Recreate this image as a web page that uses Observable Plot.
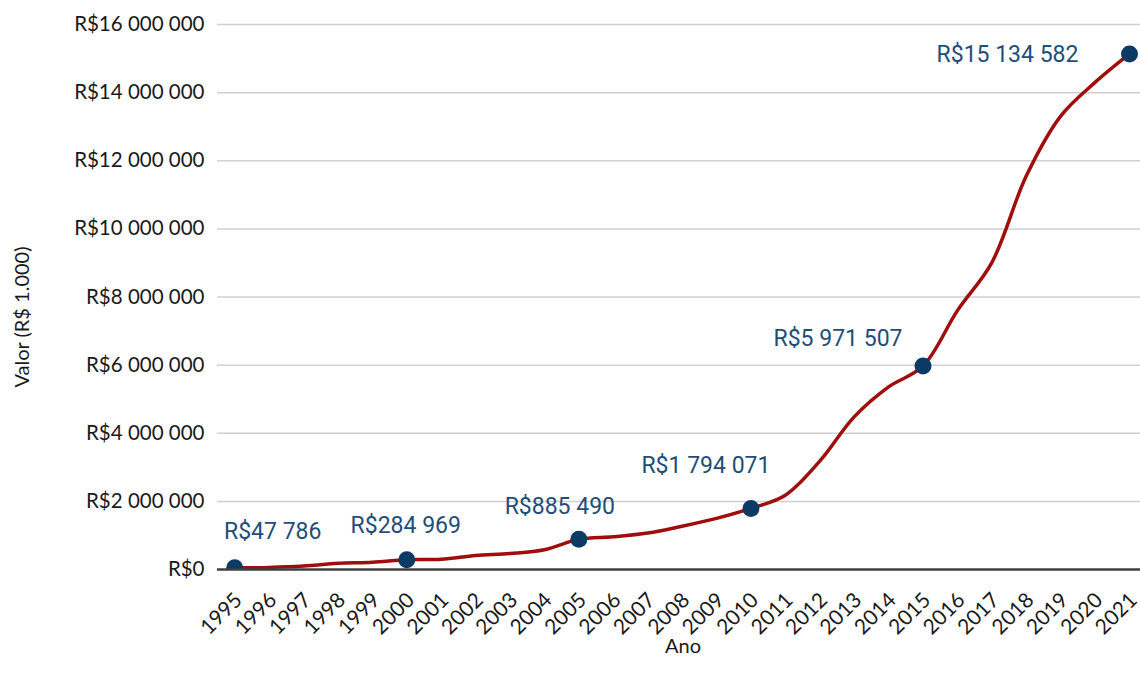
<!DOCTYPE html>
<html>
<head>
<meta charset="utf-8">
<script src="https://cdn.jsdelivr.net/npm/d3@7"></script>
<script src="https://cdn.jsdelivr.net/npm/@observablehq/plot@0.6"></script>
<style>
  html, body { margin: 0; padding: 0; background: #fff; overflow: hidden; }
</style>
</head>
<body>
<div id="chart"></div>
<script>
const anos = [1995, 1996, 1997, 1998, 1999, 2000, 2001, 2002, 2003, 2004, 2005, 2006, 2007, 2008, 2009, 2010, 2011, 2012, 2013, 2014, 2015, 2016, 2017, 2018, 2019, 2020, 2021];
const valores = [47786, 60000, 100000, 180000, 210000, 284969, 300000, 410000, 470000, 580000, 885490, 960000, 1070000, 1270000, 1500000, 1794071, 2180000, 3180000, 4480000, 5360000, 5971507, 7600000, 9010000, 11550000, 13310000, 14300000, 15134582];
const anosDestaque = [1995, 2000, 2005, 2010, 2015, 2021];
const yTicks = [0, 2000000, 4000000, 6000000, 8000000, 10000000, 12000000, 14000000, 16000000];
const tituloX = "Ano";
const tituloY = "Valor (R$ 1.000)";

const locale = d3.formatLocale({decimal: ",", thousands: " ", grouping: [3], currency: ["R$", ""]});
const fmt = locale.format("$,.0f");

const data = anos.map((ano, i) => ({ano, valor: valores[i]}));
const destaque = data.filter(d => anosDestaque.includes(d.ano));
const byYear = y => destaque.filter(d => d.ano === y);

const labelStyle = {x: "ano", y: "valor", text: d => fmt(d.valor), fill: "#1f4e79", fontFamily: "Roboto", fontSize: 23};

const chart = Plot.plot({
  width: 1140,
  height: 681,
  marginTop: 24,
  marginBottom: 112,
  marginLeft: 217,
  marginRight: 0,
  style: {fontFamily: "Lato", fontSize: "20px", color: "#1a1a1a", background: "#fff"},
  x: {domain: [1994.5, 2021.32]},
  y: {domain: [0, 16000000]},
  marks: [
    Plot.ruleY(yTicks.filter(v => v > 0), {stroke: "#d0d0d0", strokeWidth: 1.5}),
    Plot.axisY({ticks: yTicks, tickFormat: fmt, tickSize: 0, tickPadding: 13, label: null, fontSize: 20.5}),
    Plot.axisX({ticks: anos, tickFormat: d => String(d), tickRotate: -45, tickSize: 0, tickPadding: 27, dx: 4, label: null, fontSize: 21}),
    Plot.line(data, {x: "ano", y: "valor", stroke: "#a00d0d", strokeWidth: 3.5, curve: "catmull-rom"}),
    Plot.dot(destaque, {x: "ano", y: "valor", r: 8.5, fill: "#0b3a64", stroke: "none", clip: true}),
    Plot.ruleY([0], {stroke: "#3f3f3f", strokeWidth: 2.5}),
    Plot.text(byYear(1995), {...labelStyle, dx: 38, dy: -36}),
    Plot.text(byYear(2000), {...labelStyle, dx: -1, dy: -34}),
    Plot.text(byYear(2005), {...labelStyle, dx: -19, dy: -33}),
    Plot.text(byYear(2010), {...labelStyle, dx: -45, dy: -43}),
    Plot.text(byYear(2015), {...labelStyle, dx: -85, dy: -27}),
    Plot.text(byYear(2021), {...labelStyle, dx: -122, dy: 1}),
    Plot.text([tituloX], {frameAnchor: "bottom", dx: 4, dy: 83, fontSize: 20, fill: "#1a1a1a"}),
    Plot.text([tituloY], {frameAnchor: "left", textAnchor: "middle", lineAnchor: "middle", rotate: -90, dx: -195, dy: 20, fontSize: 20, fill: "#1a1a1a"})
  ]
});
document.getElementById("chart").appendChild(chart);
</script>
</body>
</html>
